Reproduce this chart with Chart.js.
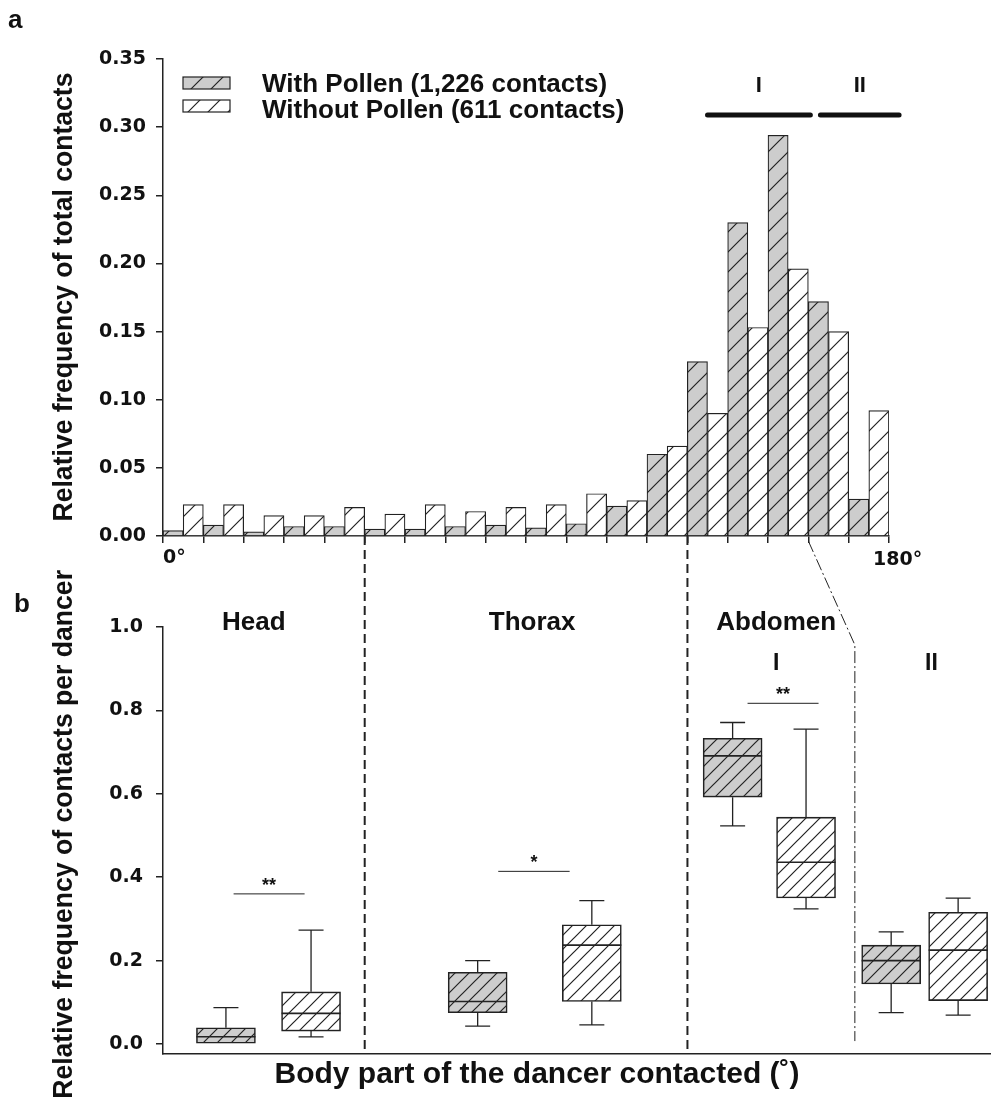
<!doctype html>
<html lang="en">

<head>
    <meta charset="utf-8">
    <title>Contacts with and without pollen</title>
    <style>
        * {
            margin: 0;
            padding: 0;
        }

        body {
            background: #fff;
            width: 991px;
            height: 1098px;
            overflow: hidden;
            position: relative;
        }

        canvas {
            position: absolute;
            left: 0;
            top: 0;
        }
    </style>
</head>

<body>
    <canvas id="histChart" width="991" height="1098"></canvas>
    <canvas id="boxChart" width="991" height="1098"></canvas>
    <script src="https://cdn.jsdelivr.net/npm/chart.js"></script>
    <script>
        // ---- panel a: histogram of contact angle (10 degree bins)
        const binStart = [0, 10, 20, 30, 40, 50, 60, 70, 80, 90, 100, 110, 120, 130, 140, 150, 160, 170];
        const withPollen = [0.004, 0.008, 0.003, 0.007, 0.007, 0.005, 0.005, 0.007, 0.008, 0.006, 0.009, 0.022, 0.060, 0.128, 0.230, 0.294, 0.172, 0.027];
        const withoutPollen = [0.023, 0.023, 0.015, 0.015, 0.021, 0.016, 0.023, 0.018, 0.021, 0.023, 0.031, 0.026, 0.066, 0.090, 0.153, 0.196, 0.150, 0.092];
        const yTicksA = [0, 0.05, 0.10, 0.15, 0.20, 0.25, 0.30, 0.35];
        const seriesLabels = ['With Pollen (1,226 contacts)', 'Without Pollen (611 contacts)'];
        const segNames = ['I', 'II'];
        const segFrom = [135, 163];
        const segTo = [160.5, 182.5];

        // ---- panel b: box plots per body part
        const regions = ['Head', 'Thorax', 'Abdomen I', 'Abdomen II'];
        const withMin = [0, 0.043, 0.523, 0.075];
        const withQ1 = [0, 0.075, 0.592, 0.144];
        const withMed = [0.0175, 0.102, 0.691, 0.200];
        const withQ3 = [0.039, 0.172, 0.733, 0.237];
        const withMax = [0.087, 0.200, 0.771, 0.269];
        const withoutMin = [0.017, 0.046, 0.324, 0.069];
        const withoutQ1 = [0.031, 0.102, 0.350, 0.104];
        const withoutMed = [0.0735, 0.237, 0.436, 0.225];
        const withoutQ3 = [0.125, 0.286, 0.544, 0.316];
        const withoutMax = [0.273, 0.344, 0.755, 0.350];
        const yTicksB = [0, 0.2, 0.4, 0.6, 0.8, 1.0];
        const sigText = ['**', '*', '**'];
        const sigY = [0.36, 0.414, 0.817];

        // layout along panel b's axis (same degree units as panel a)
        const withPos = [15.6, 78, 141.2, 180.5];
        const withoutPos = [36.7, 106.3, 159.4, 197.1];
        const sigFrom = [17.5, 83.1, 144.9];
        const sigTo = [35.1, 100.8, 162.5];
        const regionText = ['Head', 'Thorax', 'Abdomen', 'I', 'II'];
        const regionX = [22.5, 91.5, 152, 152, 190.5];
        const regionY = [0.993, 0.993, 0.993, 0.897, 0.897];

        const INK = '#222';
        const GREY = '#cdcdcd';
        const BOLD = '"Liberation Sans", Arial, sans-serif';
        const TICKFONT = { family: '"DejaVu Sans", sans-serif', size: 19, weight: 'bold' };
        const TITLE_A = 'Relative frequency of total contacts';
        const TITLE_B = 'Relative frequency of contacts per dancer';

        function hatch(fill, size) {
            const c = document.createElement('canvas');
            c.width = size;
            c.height = size;
            const g = c.getContext('2d');
            if (fill) {
                g.fillStyle = fill;
                g.fillRect(0, 0, size, size);
            }
            g.strokeStyle = INK;
            g.lineWidth = 1.2;
            g.beginPath();
            g.moveTo(0, size);
            g.lineTo(size, 0);
            g.moveTo(-2, 2);
            g.lineTo(2, -2);
            g.moveTo(size - 2, size + 2);
            g.lineTo(size + 2, size - 2);
            g.stroke();
            return g.createPattern(c, 'repeat');
        }

        const barGrey = hatch(GREY, 20);
        const barWhite = hatch('#fff', 20);
        const boxGrey = hatch(GREY, 14);
        const boxWhite = hatch('#fff', 14);

        function vTitle(ctx, text, xBase, yCenter, sx) {
            ctx.save();
            ctx.translate(xBase, yCenter);
            ctx.rotate(-Math.PI / 2);
            ctx.scale(sx, 1);
            ctx.textAlign = 'center';
            ctx.textBaseline = 'alphabetic';
            ctx.fillText(text, 0, 0);
            ctx.restore();
        }

        function titleScale(ctx) {
            ctx.font = 'bold 28px ' + BOLD;
            return 449 / ctx.measureText(TITLE_A).width;
        }

        const histDecor = {
            id: 'histDecor',
            afterDraw(chart) {
                const ctx = chart.ctx;
                const x = chart.scales.x;
                const y = chart.scales.y;
                const area = chart.chartArea;
                ctx.save();
                ctx.fillStyle = '#111';

                // panel letter
                ctx.font = 'bold 26px ' + BOLD;
                ctx.textAlign = 'left';
                ctx.fillText('a', 8, 28);

                // axis title
                const sx = titleScale(ctx);
                vTitle(ctx, TITLE_A, 72, 297, sx);

                // 0 and 180 labels
                ctx.font = 'bold 19px "DejaVu Sans", sans-serif';
                ctx.textAlign = 'left';
                ctx.textBaseline = 'top';
                ctx.fillText('0°', x.getPixelForValue(0), area.bottom + 13);
                ctx.fillText('180°', x.getPixelForValue(180) - 16, area.bottom + 15);

                // legend
                ctx.textBaseline = 'alphabetic';
                ctx.font = 'bold 26px ' + BOLD;
                chart.data.datasets.forEach((ds, i) => {
                    const top = 77 + i * 23;
                    ctx.fillStyle = ds.backgroundColor;
                    ctx.fillRect(183, top, 47, 12);
                    ctx.strokeStyle = INK;
                    ctx.lineWidth = 1.2;
                    ctx.strokeRect(183, top, 47, 12);
                    ctx.fillStyle = '#111';
                    ctx.fillText(ds.label, 262, 92 + i * 26);
                });

                // I / II ranges
                ctx.strokeStyle = '#111';
                ctx.lineWidth = 5;
                ctx.lineCap = 'round';
                ctx.font = 'bold 22px ' + BOLD;
                ctx.textAlign = 'center';
                segNames.forEach((name, i) => {
                    const x0 = x.getPixelForValue(segFrom[i]);
                    const x1 = x.getPixelForValue(segTo[i]);
                    const yy = y.getPixelForValue(0.309);
                    ctx.beginPath();
                    ctx.moveTo(x0, yy);
                    ctx.lineTo(x1, yy);
                    ctx.stroke();
                    ctx.fillText(name, (x0 + x1) / 2, y.getPixelForValue(0.3255));
                });
                ctx.restore();
            }
        };

        const chartA = new Chart(document.getElementById('histChart'), {
            type: 'bar',
            data: {
                datasets: [{
                    label: seriesLabels[0],
                    data: binStart.map((b, i) => ({ x: b + 5, y: withPollen[i] })),
                    backgroundColor: barGrey,
                    borderColor: INK,
                    borderWidth: 1.2
                }, {
                    label: seriesLabels[1],
                    data: binStart.map((b, i) => ({ x: b + 5, y: withoutPollen[i] })),
                    backgroundColor: barWhite,
                    borderColor: INK,
                    borderWidth: 1.2
                }]
            },
            options: {
                responsive: false,
                animation: false,
                devicePixelRatio: 1,
                layout: { padding: { left: 0, top: 59, right: 102, bottom: 562 } },
                datasets: { bar: { categoryPercentage: 1, barPercentage: 1 } },
                plugins: { legend: { display: false }, tooltip: { enabled: false } },
                scales: {
                    x: {
                        type: 'linear',
                        min: 0,
                        max: 180,
                        offset: false,
                        ticks: { stepSize: 10, callback: () => '' },
                        grid: { offset: false, drawOnChartArea: false, drawTicks: true, tickLength: 7, color: INK, lineWidth: 1.5 },
                        border: { display: true, color: INK, width: 1.5 },
                        afterFit: s => { s.height = 0; }
                    },
                    y: {
                        min: 0,
                        max: 0.35,
                        afterBuildTicks: s => { s.ticks = yTicksA.map(v => ({ value: v })); },
                        ticks: { font: TICKFONT, color: '#111', padding: 10, callback: v => v.toFixed(2) },
                        grid: { drawOnChartArea: false, drawTicks: true, tickLength: 7, color: INK, lineWidth: 1.5 },
                        border: { display: true, color: INK, width: 1.5 },
                        afterFit: s => { s.width = 163; }
                    }
                }
            },
            plugins: [histDecor]
        });

        const boxDecor = {
            id: 'boxDecor',
            beforeDatasetsDraw(chart) {
                const ctx = chart.ctx;
                const x = chart.scales.x;
                const y = chart.scales.y;
                const topA = chartA.chartArea.bottom;
                ctx.save();
                ctx.strokeStyle = INK;
                // head | thorax | abdomen separators
                ctx.lineWidth = 2;
                ctx.setLineDash([9, 5]);
                [50, 130].forEach(v => {
                    const px = x.getPixelForValue(v);
                    ctx.beginPath();
                    ctx.moveTo(px, topA);
                    ctx.lineTo(px, chart.chartArea.bottom);
                    ctx.stroke();
                });
                // abdomen I | II link from panel a
                ctx.lineWidth = 1;
                ctx.setLineDash([12, 3, 2, 3]);
                ctx.beginPath();
                ctx.moveTo(chartA.scales.x.getPixelForValue(160), topA + 5);
                ctx.lineTo(x.getPixelForValue(171.5), y.getPixelForValue(0.957));
                ctx.lineTo(x.getPixelForValue(171.5), y.getPixelForValue(0.007));
                ctx.stroke();
                ctx.restore();
            },
            afterDatasetsDraw(chart) {
                const ctx = chart.ctx;
                const y = chart.scales.y;
                const stats = [
                    [withMin, withMed, withMax],
                    [withoutMin, withoutMed, withoutMax]
                ];
                ctx.save();
                ctx.strokeStyle = INK;
                chart.data.datasets.forEach((ds, d) => {
                    const meta = chart.getDatasetMeta(d);
                    const [mins, meds, maxs] = stats[d];
                    meta.data.forEach((el, i) => {
                        const [q1, q3] = ds.data[i].y;
                        const half = el.width / 2;
                        ctx.lineWidth = 1.3;
                        ctx.beginPath();
                        if (maxs[i] > q3) {
                            ctx.moveTo(el.x, y.getPixelForValue(q3));
                            ctx.lineTo(el.x, y.getPixelForValue(maxs[i]));
                            ctx.moveTo(el.x - 12.5, y.getPixelForValue(maxs[i]));
                            ctx.lineTo(el.x + 12.5, y.getPixelForValue(maxs[i]));
                        }
                        if (mins[i] < q1) {
                            ctx.moveTo(el.x, y.getPixelForValue(q1));
                            ctx.lineTo(el.x, y.getPixelForValue(mins[i]));
                            ctx.moveTo(el.x - 12.5, y.getPixelForValue(mins[i]));
                            ctx.lineTo(el.x + 12.5, y.getPixelForValue(mins[i]));
                        }
                        ctx.stroke();
                        ctx.lineWidth = 1.6;
                        ctx.beginPath();
                        ctx.moveTo(el.x - half, y.getPixelForValue(meds[i]));
                        ctx.lineTo(el.x + half, y.getPixelForValue(meds[i]));
                        ctx.stroke();
                    });
                });
                ctx.restore();
            },
            afterDraw(chart) {
                const ctx = chart.ctx;
                const x = chart.scales.x;
                const y = chart.scales.y;
                ctx.save();
                ctx.fillStyle = '#111';
                ctx.strokeStyle = INK;

                ctx.font = 'bold 26px ' + BOLD;
                ctx.textAlign = 'left';
                ctx.fillText('b', 14, 612);

                // region names
                ctx.textAlign = 'center';
                regionText.forEach((t, i) => {
                    ctx.font = (i < 3 ? 'bold 26px ' : 'bold 23px ') + BOLD;
                    ctx.fillText(t, x.getPixelForValue(regionX[i]), y.getPixelForValue(regionY[i]));
                });

                // significance bars
                ctx.lineWidth = 1;
                ctx.font = 'bold 18px ' + BOLD;
                sigText.forEach((t, i) => {
                    const x0 = x.getPixelForValue(sigFrom[i]);
                    const x1 = x.getPixelForValue(sigTo[i]);
                    const yy = y.getPixelForValue(sigY[i]);
                    ctx.beginPath();
                    ctx.moveTo(x0, yy);
                    ctx.lineTo(x1, yy);
                    ctx.stroke();
                    ctx.fillText(t, (x0 + x1) / 2, yy - 3);
                });

                // axis titles
                ctx.font = 'bold 30px ' + BOLD;
                ctx.fillText('Body part of the dancer contacted (˚)', 537, 1083);
                const sx = titleScale(ctx);
                const wB = ctx.measureText(TITLE_B).width * sx;
                vTitle(ctx, TITLE_B, 72, 570 + wB / 2, sx);
                ctx.restore();
            }
        };

        const chartB = new Chart(document.getElementById('boxChart'), {
            type: 'bar',
            data: {
                datasets: [{
                    label: seriesLabels[0],
                    data: withPos.map((p, i) => ({ x: p, y: [withQ1[i], withQ3[i]] })),
                    backgroundColor: boxGrey,
                    borderColor: INK,
                    borderWidth: 1.6,
                    borderSkipped: false
                }, {
                    label: seriesLabels[1],
                    data: withoutPos.map((p, i) => ({ x: p, y: [withoutQ1[i], withoutQ3[i]] })),
                    backgroundColor: boxWhite,
                    borderColor: INK,
                    borderWidth: 1.6,
                    borderSkipped: false
                }]
            },
            options: {
                responsive: false,
                animation: false,
                devicePixelRatio: 1,
                layout: { padding: { left: 0, top: 627, right: 1, bottom: 44 } },
                datasets: { bar: { grouped: false, barThickness: 59 } },
                plugins: { legend: { display: false }, tooltip: { enabled: false } },
                scales: {
                    x: {
                        type: 'linear',
                        min: 0,
                        max: 205,
                        offset: false,
                        ticks: { display: false },
                        grid: { display: false, offset: false },
                        border: { display: true, color: INK, width: 1.5 },
                        afterFit: s => { s.height = 0; }
                    },
                    y: {
                        min: -0.024,
                        max: 1.0,
                        afterBuildTicks: s => { s.ticks = yTicksB.map(v => ({ value: v })); },
                        ticks: { font: TICKFONT, color: '#111', padding: 13, callback: v => v.toFixed(1) },
                        grid: { drawOnChartArea: false, drawTicks: true, tickLength: 7, color: INK, lineWidth: 1.5 },
                        border: { display: true, color: INK, width: 1.5 },
                        afterFit: s => { s.width = 163; }
                    }
                }
            },
            plugins: [boxDecor]
        });
    </script>
</body>

</html>
